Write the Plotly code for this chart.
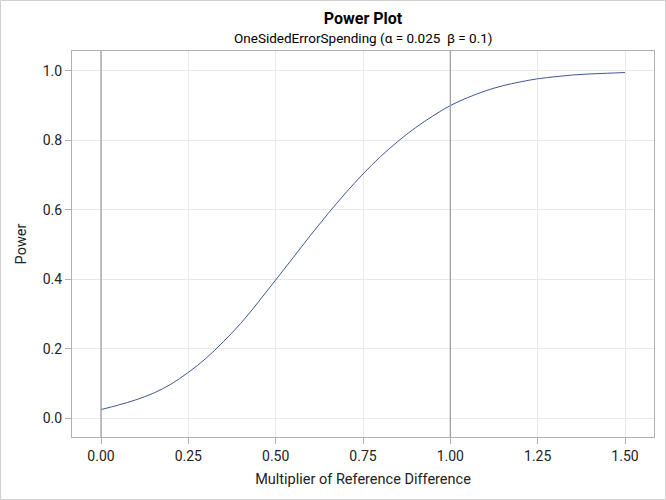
import plotly.graph_objects as go

multiplier = [0.0, 0.05, 0.1, 0.15, 0.2, 0.25, 0.3, 0.35, 0.4, 0.45, 0.5,
              0.55, 0.6, 0.65, 0.7, 0.75, 0.8, 0.85, 0.9, 0.95, 1.0,
              1.05, 1.1, 1.15, 1.2, 1.25, 1.3, 1.35, 1.4, 1.45, 1.5]
power = [0.025, 0.038, 0.053, 0.072, 0.098, 0.132, 0.172, 0.220, 0.273, 0.334, 0.398,
         0.462, 0.527, 0.589, 0.648, 0.703, 0.753, 0.797, 0.836, 0.870, 0.900,
         0.923, 0.942, 0.957, 0.968, 0.977, 0.983, 0.988, 0.991, 0.993, 0.995]
ref_lines = [0.0, 1.0]
x_ticks = [0.0, 0.25, 0.5, 0.75, 1.0, 1.25, 1.5]
x_tick_labels = ["0.00", "0.25", "0.50", "0.75", "1.00", "1.25", "1.50"]
y_ticks = [0.0, 0.2, 0.4, 0.6, 0.8, 1.0]
y_tick_labels = ["0.0", "0.2", "0.4", "0.6", "0.8", "1.0"]

W, H = 666, 500
L, R, T, B = 72, 12, 51, 63
FONT = "Roboto, Liberation Sans, Arial, sans-serif"

fig = go.Figure()
fig.add_trace(go.Scatter(x=multiplier, y=power, mode="lines",
                         line=dict(color="#445694", width=1, shape="spline"),
                         showlegend=False, hoverinfo="x+y"))

for xv in ref_lines:
    fig.add_shape(type="line", xref="x", yref="paper", x0=xv, x1=xv, y0=0, y1=1,
                  line=dict(color="#a0a0a0", width=1.3), layer="above")

pw = W - L - R
ph = H - T - B
fig.add_shape(type="rect", xref="paper", yref="paper",
              x0=-(L - 0.5) / pw, x1=1 + (R - 0.5) / pw,
              y0=-(B - 0.5) / ph, y1=1 + (T - 0.5) / ph,
              line=dict(color="#d0d0d0", width=1), layer="below")

fig.update_layout(
    width=W, height=H,
    margin=dict(l=L, r=R, t=T, b=B, autoexpand=False),
    paper_bgcolor="white", plot_bgcolor="white",
    font=dict(family=FONT, size=13, color="#000000"),
    title=dict(text="<b>Power Plot</b>", x=0.5, xref="paper", xanchor="center",
               y=1 - 18.5 / H, yanchor="middle", font=dict(size=16, family=FONT)),
    annotations=[dict(text="OneSidedErrorSpending (α = 0.025  β = 0.1)",
                      xref="paper", yref="paper", x=0.5, y=1 + (T - 38) / ph,
                      xanchor="center", yanchor="middle", showarrow=False,
                      font=dict(size=13.5, family=FONT))],
    xaxis=dict(range=[-0.083, 1.583], tickvals=x_ticks, ticktext=x_tick_labels,
               showgrid=True, gridcolor="#e8e8e8", gridwidth=1, zeroline=False,
               showline=True, linecolor="#b0b0b0", linewidth=1, mirror=True,
               ticks="outside", ticklen=6, tickcolor="#b0b0b0", automargin=False,
               tickfont=dict(size=14, color="#222222"),
               title=dict(text="Multiplier of Reference Difference", standoff=11,
                          font=dict(size=14.5, color="#222222"))),
    yaxis=dict(range=[-0.054, 1.057], tickvals=y_ticks, ticktext=y_tick_labels,
               showgrid=True, gridcolor="#e8e8e8", gridwidth=1, zeroline=False,
               showline=True, linecolor="#b0b0b0", linewidth=1, mirror=True,
               ticks="outside", ticklen=6, tickcolor="#b0b0b0", automargin=False,
               tickfont=dict(size=14, color="#222222"),
               title=dict(text="Power", standoff=12,
                          font=dict(size=14.5, color="#222222"))),
)

fig.write_html("out.html", config={"displayModeBar": False},
               post_script="document.body.style.margin='0';")
